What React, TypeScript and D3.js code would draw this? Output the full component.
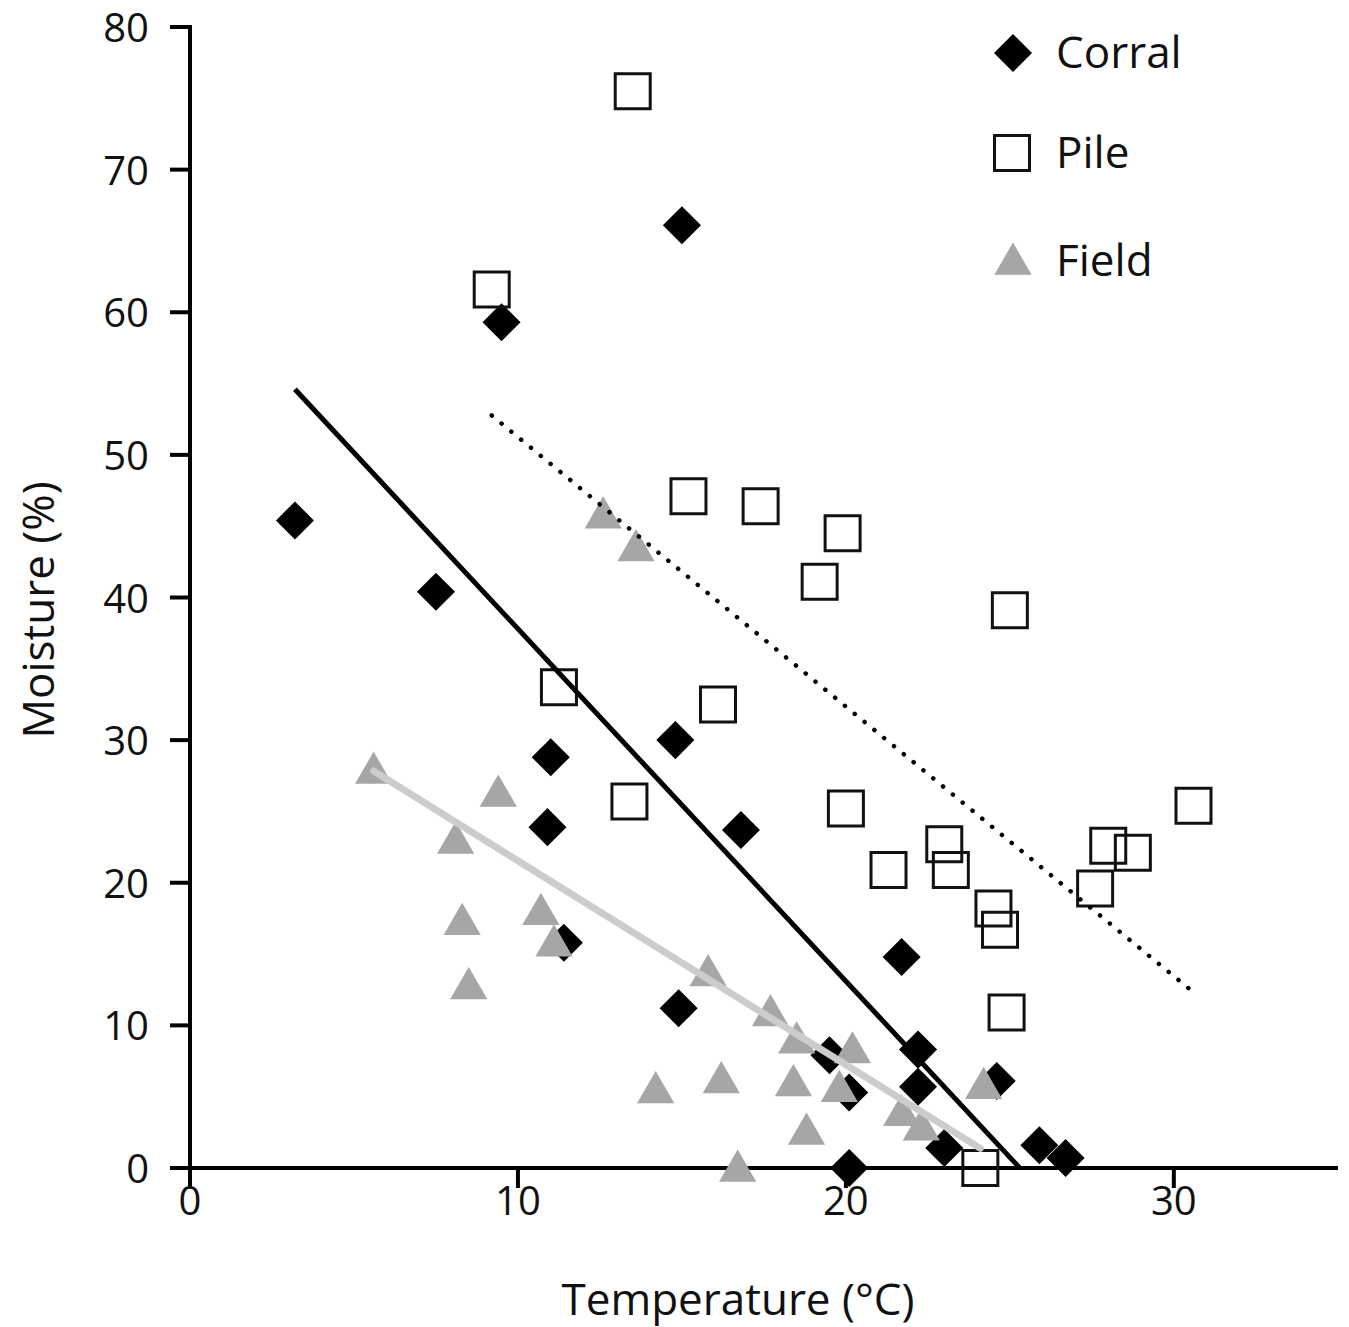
import React from "react";
import * as d3 from "d3";

// data (temperature °C, moisture %)
const corralTemp = [3.2, 7.5, 9.5, 15.0, 11.0, 10.9, 11.4, 14.8, 16.8, 14.9, 21.7, 22.2, 22.2, 24.6, 20.1, 19.5, 20.1, 23.0, 25.9, 26.7];
const corralMoist = [45.4, 40.4, 59.3, 66.1, 28.8, 23.9, 15.8, 30.0, 23.7, 11.2, 14.8, 8.3, 5.7, 6.1, 0.0, 7.9, 5.3, 1.4, 1.6, 0.7];

const pileTemp = [13.5, 9.2, 15.2, 17.4, 19.9, 19.2, 25.0, 11.25, 16.1, 13.4, 20.0, 21.3, 23.0, 23.2, 24.5, 24.7, 24.9, 27.6, 28.0, 28.75, 30.6, 24.1];
const pileMoist = [75.5, 61.6, 47.1, 46.4, 44.5, 41.1, 39.1, 33.7, 32.5, 25.7, 25.2, 20.9, 22.7, 20.9, 18.2, 16.7, 10.9, 19.6, 22.6, 22.1, 25.4, 0.0];

const fieldTemp = [5.6, 12.6, 13.6, 9.4, 8.1, 8.3, 8.5, 10.7, 11.1, 15.8, 17.7, 18.5, 20.2, 14.2, 16.2, 18.4, 19.8, 18.8, 21.7, 22.3, 24.2, 16.7];
const fieldMoist = [27.9, 45.8, 43.5, 26.3, 23.0, 17.3, 12.8, 18.0, 15.8, 13.7, 10.9, 9.0, 8.3, 5.5, 6.2, 6.0, 5.6, 2.6, 3.9, 2.9, 5.8, 0.0];

// linear trend lines: [intercept, slope, xStart, xEnd]
const corralTrend = [62.5, -2.47, 3.2, 25.3];
const pileTrend = [70.15, -1.89, 9.2, 30.6];
const fieldTrend = [35.84, -1.43, 5.6, 24.1];

const xTicks = [0, 10, 20, 30];
const yTicks = [0, 10, 20, 30, 40, 50, 60, 70, 80];
const seriesNames = ["Corral", "Pile", "Field"];

const W = 1349;
const H = 1327;
const font = "'Open Sans', sans-serif";
const grey = "#a6a6a6";

export default function App() {
  const x = d3.scaleLinear().domain([0, 35.25]).range([190, 1346]);
  const y = d3.scaleLinear().domain([0, 80]).range([1168, 27]);

  const diamond = d3.symbol(d3.symbolSquare, 724)()!;
  const square = d3.symbol(d3.symbolSquare, 1225)()!;
  const triangle = d3.symbol(d3.symbolTriangle, 600)()!;

  const trendLine = (t: number[]) =>
    d3.line<number>().x((v) => x(v)).y((v) => y(t[0] + t[1] * v))([t[2], t[3]])!;

  const pts = (xs: number[], ys: number[]) => xs.map((v, i) => [x(v), y(ys[i])]);

  return (
    <svg width={W} height={H} style={{ position: "absolute", left: 0, top: 0, background: "#fff" }}>
      {/* axes */}
      <g stroke="#000" strokeWidth={4}>
        <line x1={x(0)} x2={x(0)} y1={y(80) - 2} y2={y(0) + 2} />
        <line x1={x(0) - 2} x2={1338} y1={y(0)} y2={y(0)} />
        {yTicks.map((t) => (
          <line key={"yt" + t} x1={x(0) - 20} x2={x(0)} y1={y(t)} y2={y(t)} />
        ))}
        {xTicks.map((t) => (
          <line key={"xt" + t} x1={x(t)} x2={x(t)} y1={y(0)} y2={y(0) + 20} />
        ))}
      </g>
      <g fontFamily={font} fontSize={40} fill="#111">
        {yTicks.map((t) => (
          <text key={"yl" + t} x={149} y={y(t) + 15} textAnchor="end">{t}</text>
        ))}
        {xTicks.map((t) => (
          <text key={"xl" + t} x={x(t)} y={1215} textAnchor="middle">{t}</text>
        ))}
      </g>
      <text x={738} y={1315} textAnchor="middle" fontFamily={font} fontSize={44} fill="#111">Temperature (°C)</text>
      <text transform="translate(54,610) rotate(-90)" textAnchor="middle" fontFamily={font} fontSize={44} fill="#111">Moisture (%)</text>

      {/* markers */}
      {pts(corralTemp, corralMoist).map(([px, py], i) => (
        <path key={"c" + i} d={diamond} transform={`translate(${px},${py}) rotate(45)`} fill="#000" />
      ))}
      {pts(pileTemp, pileMoist).map(([px, py], i) => (
        <path key={"p" + i} d={square} transform={`translate(${px},${py})`} fill="none" stroke="#111" strokeWidth={3} />
      ))}
      {pts(fieldTemp, fieldMoist).map(([px, py], i) => (
        <path key={"f" + i} d={triangle} transform={`translate(${px},${py + 3})`} fill={grey} />
      ))}

      {/* trend lines */}
      <path d={trendLine(fieldTrend)} stroke="#cccccc" strokeWidth={7} strokeLinecap="round" fill="none" />
      <path d={trendLine(corralTrend)} stroke="#000" strokeWidth={5} fill="none" />
      <path d={trendLine(pileTrend)} stroke="#000" strokeWidth={4.5} strokeDasharray="0.1 12.6" strokeLinecap="round" fill="none" />

      {/* legend */}
      {seriesNames.map((name, i) => {
        const ly = [53, 153, 261][i];
        const sym =
          i === 0 ? (
            <path d={diamond} transform={`translate(1013,${ly}) rotate(45)`} fill="#000" />
          ) : i === 1 ? (
            <path d={square} transform={`translate(1012,${ly})`} fill="none" stroke="#111" strokeWidth={3} />
          ) : (
            <path d={triangle} transform={`translate(1013,${ly + 3})`} fill={grey} />
          );
        return (
          <g key={name}>
            {sym}
            <text x={1056} y={ly + 15} fontFamily={font} fontSize={44} fill="#111">{name}</text>
          </g>
        );
      })}
    </svg>
  );
}
